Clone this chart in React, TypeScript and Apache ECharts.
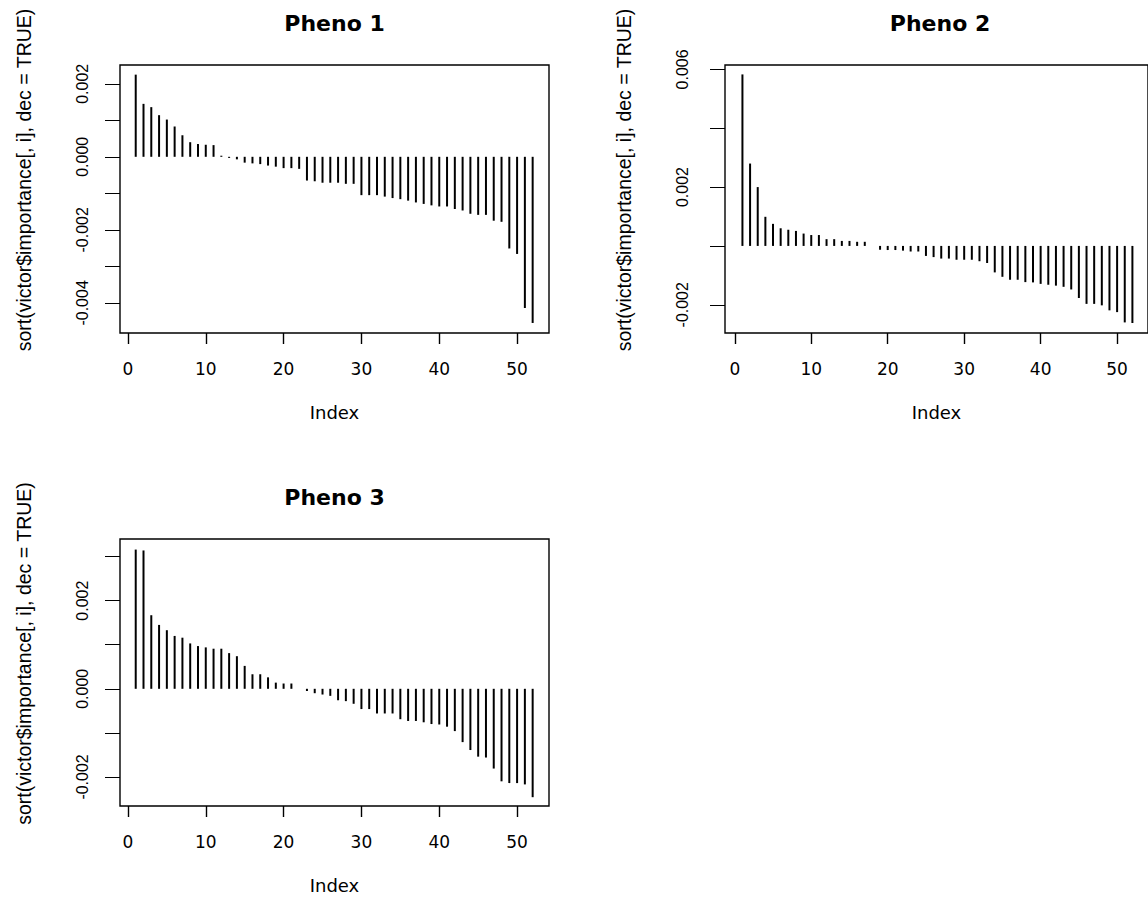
import React, { useEffect, useRef } from "react";
import * as echarts from "echarts";

const indices: number[] = Array.from({ length: 52 }, (_, i) => i + 1);

const pheno1: number[] = [
  0.00225, 0.00145, 0.00136, 0.00114, 0.00102, 0.00083, 0.00059, 0.0004, 0.00035, 0.00033,
  0.00032, 0.00003, -0.00003, -0.00007, -0.00016, -0.00018, -0.0002, -0.00024, -0.00027, -0.00031,
  -0.00031, -0.00033, -0.00065, -0.00067, -0.00071, -0.00071, -0.00071, -0.00074, -0.00074, -0.00105,
  -0.00105, -0.00105, -0.00109, -0.00113, -0.00116, -0.0012, -0.00125, -0.00129, -0.00133, -0.00136,
  -0.00136, -0.00143, -0.00147, -0.00156, -0.00159, -0.00159, -0.00175, -0.00178, -0.00251, -0.00266,
  -0.00414, -0.00455,
];

const pheno2: number[] = [
  0.00583, 0.0028, 0.002, 0.00099, 0.00075, 0.0006, 0.00055, 0.00051, 0.00042, 0.00037,
  0.00037, 0.00023, 0.00023, 0.00017, 0.00017, 0.00014, 0.00014, 0.0, -0.00013, -0.00014,
  -0.00014, -0.00016, -0.00019, -0.00019, -0.00034, -0.00038, -0.00043, -0.00043, -0.00047, -0.00047,
  -0.00047, -0.00052, -0.00058, -0.0009, -0.00105, -0.00115, -0.00115, -0.00123, -0.00124, -0.00129,
  -0.00132, -0.00135, -0.00139, -0.00148, -0.00177, -0.00197, -0.00197, -0.00202, -0.00219, -0.00225,
  -0.0026, -0.00262,
];

const pheno3: number[] = [
  0.00316, 0.00314, 0.00167, 0.00145, 0.00133, 0.0012, 0.00116, 0.00103, 0.00097, 0.00094,
  0.00091, 0.00091, 0.00081, 0.00074, 0.00052, 0.00033, 0.00033, 0.00026, 0.00014, 0.00012,
  0.00012, 0.0, -0.00005, -0.0001, -0.00013, -0.00016, -0.00026, -0.00028, -0.00034, -0.00046,
  -0.00046, -0.00056, -0.00056, -0.00056, -0.00069, -0.00073, -0.00073, -0.00076, -0.0008, -0.00081,
  -0.00086, -0.00096, -0.00121, -0.00139, -0.00154, -0.00156, -0.00181, -0.0021, -0.00214, -0.00214,
  -0.00217, -0.00246,
];

const titles: string[] = ["Pheno 1", "Pheno 2", "Pheno 3"];
const xTicks: number[] = [0, 10, 20, 30, 40, 50];
const yTicks1: number[] = [-0.004, -0.003, -0.002, -0.001, 0, 0.001, 0.002];
const yLabels1: number[] = [-0.004, -0.002, 0, 0.002];
const yTicks2: number[] = [-0.002, 0, 0.002, 0.004, 0.006];
const yLabels2: number[] = [-0.002, 0.002, 0.006];
const yTicks3: number[] = [-0.002, -0.001, 0, 0.001, 0.002, 0.003];
const yLabels3: number[] = [-0.002, 0, 0.002];
const yName = "sort(victor$importance[, i], dec = TRUE)";
const xName = "Index";

export default function App() {
  const ref = useRef<HTMLDivElement>(null);
  useEffect(() => {
    if (!ref.current) return;
    const chart = echarts.init(ref.current, undefined, { renderer: "svg" });

    const grids = [
      { left: 120, top: 65, width: 429, height: 268 },
      { left: 725, top: 65, width: 430, height: 268 },
      { left: 120, top: 539, width: 429, height: 267 },
    ];
    const xRanges = [
      [-1.02, 54.1],
      [-1.28, 54.04],
      [-1.02, 54.1],
    ];
    const yRanges = [
      [-0.004825, 0.002514],
      [-0.00296, 0.00615],
      [-0.00266, 0.0034],
    ];
    const yTickSets = [yTicks1, yTicks2, yTicks3];
    const yLabelSets = [yLabels1, yLabels2, yLabels3];
    const labelMargins = [30, 35, 30];
    const nameGaps = [86, 91, 86];
    const titleTops = [12, 12, 486];
    const datasets = [pheno1, pheno2, pheno3];

    const option: any = {
      animation: false,
      backgroundColor: "#fff",
      title: titles.map((t, i) => ({
        text: t,
        left: grids[i].left + grids[i].width / 2,
        top: titleTops[i],
        textAlign: "center",
        padding: 0,
        textStyle: {
          fontFamily: "DejaVu Sans",
          fontWeight: "bold",
          fontSize: 22,
          color: "#000",
        },
      })),
      grid: grids.map((g) => ({
        ...g,
        show: true,
        borderColor: "#000",
        borderWidth: 1.4,
        backgroundColor: "transparent",
        containLabel: false,
      })),
      xAxis: grids.map((_, i) => ({
        type: "value",
        gridIndex: i,
        min: xRanges[i][0],
        max: xRanges[i][1],
        splitLine: { show: false },
        axisLine: { show: false, onZero: false },
        axisTick: {
          show: true,
          length: 11,
          customValues: xTicks,
          lineStyle: { color: "#000", width: 1.4 },
        },
        axisLabel: {
          customValues: xTicks,
          margin: 27,
          fontFamily: "DejaVu Sans",
          fontSize: 17,
          color: "#000",
        },
        name: xName,
        nameLocation: "middle",
        nameGap: 70,
        nameTextStyle: { fontFamily: "DejaVu Sans", fontSize: 18, color: "#000" },
      })),
      yAxis: grids.map((_, i) => ({
        type: "value",
        gridIndex: i,
        min: yRanges[i][0],
        max: yRanges[i][1],
        splitLine: { show: false },
        axisLine: { show: false, onZero: false },
        axisTick: {
          show: true,
          length: 15,
          customValues: yTickSets[i],
          lineStyle: { color: "#000", width: 1 },
        },
        axisLabel: {
          customValues: yLabelSets[i],
          rotate: 90,
          margin: labelMargins[i],
          fontFamily: "Liberation Sans",
          fontSize: 16,
          color: "#000",
          formatter: (v: number) => v.toFixed(3),
        },
        name: yName,
        nameLocation: "middle",
        nameRotate: 90,
        nameGap: nameGaps[i],
        nameTextStyle: {
          fontFamily: "Liberation Sans",
          fontSize: 19.5,
          color: "#000",
          padding: [0, 0, 0, 38],
        },
      })),
      series: datasets.map((d, i) => ({
        type: "bar",
        xAxisIndex: i,
        yAxisIndex: i,
        barWidth: 2,
        silent: true,
        itemStyle: { color: "#000" },
        data: indices.map((x, k) => [x, d[k]]),
      })),
    };

    chart.setOption(option);
    return () => chart.dispose();
  }, []);

  return (
    <div
      ref={ref}
      style={{ position: "absolute", left: 0, top: 0, width: 1148, height: 903 }}
    />
  );
}
